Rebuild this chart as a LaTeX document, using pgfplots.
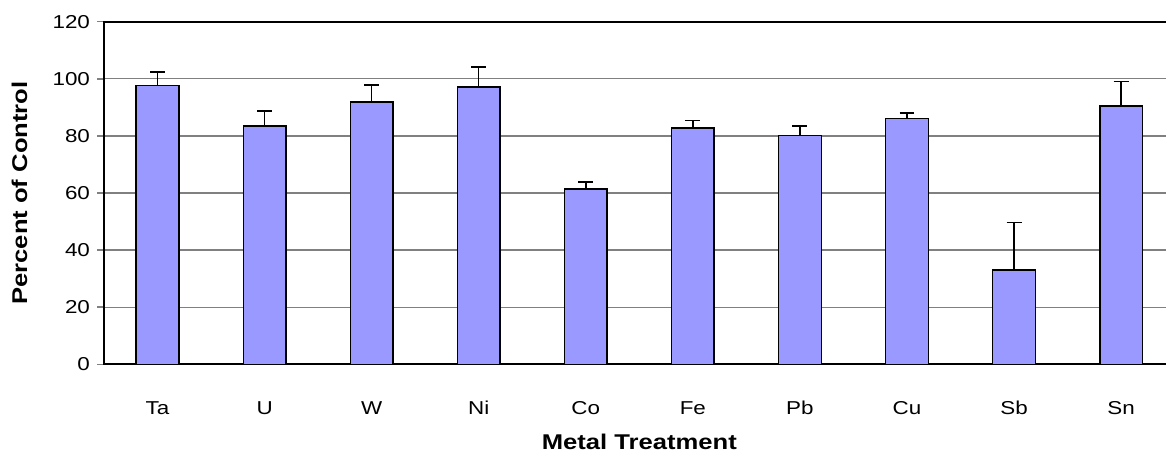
\documentclass[border=0pt]{standalone}
\usepackage{pgfplots}
\pgfplotsset{compat=1.18}
\usepackage{fontspec}
\setmainfont[FakeStretch=1.2]{Liberation Sans}
\definecolor{barfill}{HTML}{9999FF}
\begin{document}
\begin{tikzpicture}
\useasboundingbox (-78pt,-66.5pt) rectangle (796.5pt,273.25pt);
\begin{axis}[
  scale only axis,
  at={(0,0)}, anchor=south west,
  width=803pt, height=257pt,
  xmin=-0.5, xmax=9.5,
  ymin=0, ymax=120,
  ytick={0,20,...,120},
  ytick pos=left,
  xtick=data,
  xticklabels={Ta,U,W,Ni,Co,Fe,Pb,Cu,Sb,Sn},
  xtick style={draw=none},
  ytick style={draw=gray, line width=1.1pt},
  tick align=outside,
  major tick length=5pt,
  ymajorgrids,
  grid style={gray, line width=1pt},
  axis line style={black, line width=1.5pt},
  tick label style={font=\fontsize{14}{16}\selectfont},
  /pgf/number format/assume math mode=true,
  xticklabel style={anchor=base, yshift=-32.5pt},
  yticklabel style={xshift=-2pt},
  ylabel={\textbf{Percent of Control}},
  xlabel={\textbf{Metal Treatment}},
  label style={font=\fontsize{16}{18}\selectfont},
  xlabel style={at={(axis description cs:0.5,0)}, anchor=base, yshift=-63.5pt},
  ylabel style={yshift=12pt},
]
\addplot[ybar, bar width=32pt, fill=barfill, draw=black, line width=1.1pt,
  error bars/.cd, y dir=plus, y explicit,
  error bar style={black, line width=1.1pt},
  error mark options={black, rotate=90, mark size=5.6pt, line width=1.1pt}]
coordinates {
 (0,97.7) +- (0,4.7)
 (1,83.4) +- (0,5.3)
 (2,91.9) +- (0,5.9)
 (3,97.1) +- (0,7.1)
 (4,61.4) +- (0,2.5)
 (5,82.8) +- (0,2.5)
 (6,80.1) +- (0,3.3)
 (7,86.0) +- (0,2.0)
 (8,33.0) +- (0,16.7)
 (9,90.5) +- (0,8.6)
};
\end{axis}
\end{tikzpicture}
\end{document}
